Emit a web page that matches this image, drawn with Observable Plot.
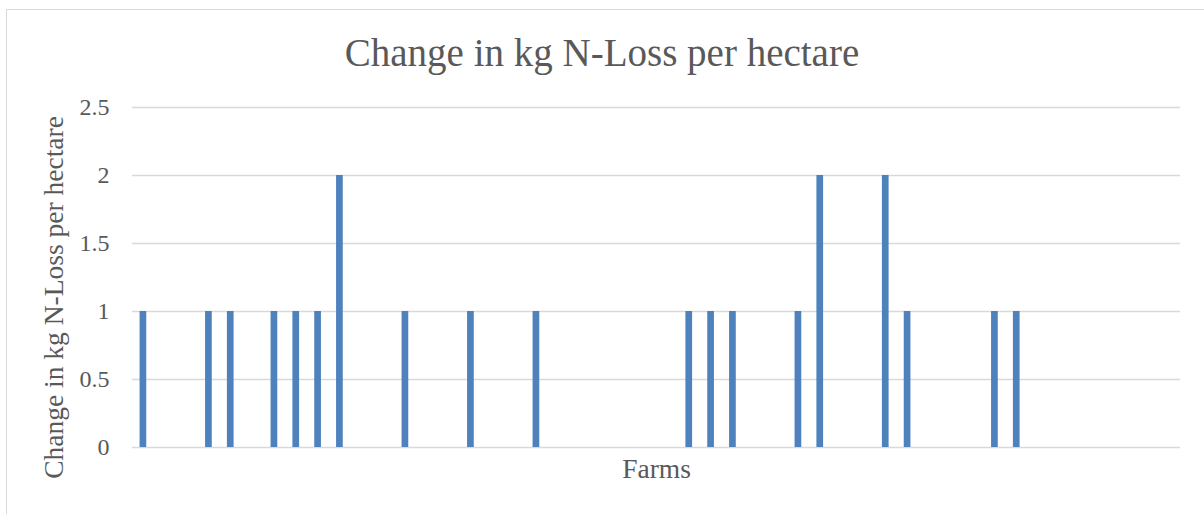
<!DOCTYPE html>
<html>
<head>
<meta charset="utf-8">
<script src="https://cdn.jsdelivr.net/npm/d3@7"></script>
<script src="https://cdn.jsdelivr.net/npm/@observablehq/plot@0.6"></script>
<style>
  html, body { margin: 0; padding: 0; background: #ffffff; }
  #chart {
    position: relative;
    width: 1204px;
    height: 514px;
    overflow: hidden;
    font-family: "Liberation Serif", serif;
    color: #595959;
  }
  #frame {
    position: absolute;
    left: 6px;
    top: 9px;
    width: 1300px;
    height: 600px;
    border-left: 1.5px solid #d9d9d9;
    border-top: 1.5px solid #d9d9d9;
    pointer-events: none;
  }
  #title {
    height: 80px;
    box-sizing: border-box;
    padding-top: 33px;
    font-size: 39px;
    line-height: 39px;
    text-align: center;
    white-space: nowrap;
  }
  #chart svg { display: block; background: transparent; }
</style>
</head>
<body>
<div id="chart">
  <div id="title"></div>
</div>
<script>
// Farms along the category axis (no tick labels are shown for them)
const farms = [
  "F01", "F02", "F03", "F04", "F05", "F06", "F07", "F08", "F09", "F10",
  "F11", "F12", "F13", "F14", "F15", "F16", "F17", "F18", "F19", "F20",
  "F21", "F22", "F23", "F24", "F25", "F26", "F27", "F28", "F29", "F30",
  "F31", "F32", "F33", "F34", "F35", "F36", "F37", "F38", "F39", "F40",
  "F41", "F42", "F43", "F44", "F45", "F46", "F47", "F48"
];

// Change in kg N-loss per hectare for each farm
const nLossChange = [
  1, 0, 0, 1, 1, 0, 1, 1, 1, 2,
  0, 0, 1, 0, 0, 1, 0, 0, 1, 0,
  0, 0, 0, 0, 0, 1, 1, 1, 0, 0,
  1, 2, 0, 0, 2, 1, 0, 0, 0, 1,
  1, 0, 0, 0, 0, 0, 0, 0
];

const yTicks = [0, 0.5, 1, 1.5, 2, 2.5];

const chartTitle = "Change in kg N-Loss per hectare";
const yTitle = "Change in kg N-Loss per hectare";
const xTitle = "Farms";

const rows = farms.map((farm, i) => ({farm, value: nLossChange[i]}));

document.getElementById("title").textContent = chartTitle;

const plot = Plot.plot({
  width: 1204,
  height: 434,
  marginTop: 27,
  marginBottom: 67,
  marginLeft: 132,
  marginRight: 24,
  style: {
    fontFamily: "Liberation Serif, serif",
    color: "#595959",
    background: "transparent",
    overflow: "visible"
  },
  x: {
    type: "band",
    domain: farms,
    paddingInner: 0.693,
    paddingOuter: 0.3465,
    axis: null
  },
  y: {
    domain: [0, 2.5],
    axis: null
  },
  marks: [
    Plot.gridY(yTicks, {stroke: "#d9d9d9", strokeOpacity: 1, strokeWidth: 1.4}),
    Plot.axisY(yTicks, {
      tickSize: 0,
      tickPadding: 23,
      fontSize: 24,
      label: null,
      tickFormat: d => String(d)
    }),
    Plot.barY(rows, {x: "farm", y: "value", fill: "#4f81bd"}),
    // vertical axis title, centred on its own point left of the frame
    Plot.text([yTitle], {
      frameAnchor: "left",
      textAnchor: "middle",
      lineAnchor: "middle",
      rotate: -90,
      dx: -78,
      dy: 20,
      fontSize: 27.5,
      fill: "#595959"
    }),
    Plot.text([xTitle], {
      frameAnchor: "bottom",
      lineAnchor: "bottom",
      dy: 30,
      fontSize: 27.5,
      fill: "#595959"
    })
  ]
});

document.getElementById("chart").appendChild(plot);

const frame = document.createElement("div");
frame.id = "frame";
document.getElementById("chart").appendChild(frame);
</script>
</body>
</html>
